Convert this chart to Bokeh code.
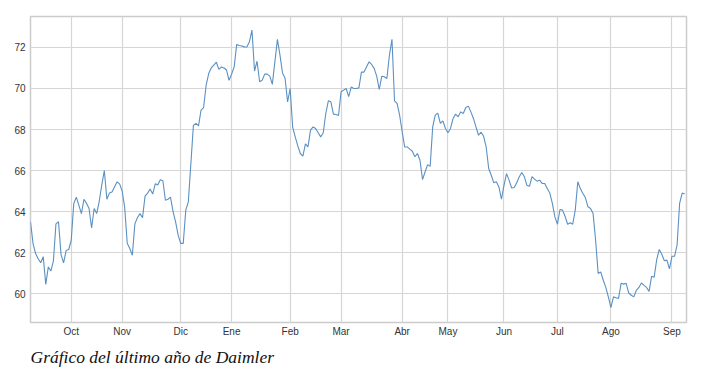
from bokeh.plotting import figure
from bokeh.models import FixedTicker, Range1d, Title
from bokeh.embed import file_html
from bokeh.resources import INLINE

# Daily closing prices (trading-day index)
prices_part1 = [63.5, 62.44, 61.95, 61.7, 61.5, 61.8, 60.45, 61.3, 61.1, 61.6,
                63.4, 63.5, 61.9, 61.5, 62.1, 62.15, 62.6, 64.4, 64.7, 64.3,
                63.9, 64.6, 64.4, 64.15, 63.2, 64.15, 63.9, 64.5, 65.3, 66.0,
                64.6, 64.9, 64.95, 65.2, 65.45, 65.35, 65.0, 64.2, 62.45, 62.2,
                61.87, 63.4, 63.7, 63.9, 63.7, 64.75, 64.9, 65.1, 64.85, 65.35,
                65.3, 65.55, 65.5, 64.55, 64.6, 64.7, 64.0, 63.5, 62.85, 62.45,
                62.45, 64.07, 64.47, 66.34, 68.2, 68.3, 68.18, 68.95, 69.07, 70.16,
                70.73, 71.0, 71.14, 71.28, 70.93, 71.05, 71.0, 70.9, 70.4, 70.7,
                71.05, 72.15, 72.1]
prices_part2 = [72.07, 72.03, 72.02, 72.28, 72.85, 70.85, 71.33, 70.33, 70.4, 70.7,
                70.7, 70.6, 70.2, 71.3, 72.4, 71.63, 70.76, 70.5, 69.35, 70.0,
                68.1, 67.64, 67.2, 66.83, 66.7, 67.3, 67.15, 67.97, 68.13, 68.05,
                67.84, 67.64, 67.84, 68.78, 69.4, 69.35, 68.75, 68.73, 68.68, 69.84,
                69.92, 70.0, 69.6, 70.08, 70.0, 70.0, 70.03, 70.8, 70.8, 71.05,
                71.3, 71.17, 70.98, 70.6, 69.95, 70.6, 70.57, 70.49, 71.63, 72.4,
                69.4, 69.27, 68.7, 67.89, 67.15, 67.15, 67.04, 66.94, 66.67, 66.83,
                66.5, 65.56, 65.93, 66.29, 66.2, 68.13, 68.7, 68.8, 68.3, 68.42,
                68.05, 67.84, 68.05, 68.54, 68.75, 68.62]
prices_part3 = [68.86, 68.78, 69.07, 69.14, 68.86, 68.54, 68.13, 67.72, 67.87, 67.67,
                67.15, 66.1, 65.77, 65.4, 65.45, 65.2, 64.6, 65.28, 65.85, 65.53,
                65.15, 65.17, 65.4, 65.7, 65.9, 65.7, 65.28, 65.23, 65.7, 65.58,
                65.48, 65.53, 65.37, 65.37, 65.12, 64.9, 64.4, 63.74, 63.38, 64.1,
                64.07, 63.77, 63.38, 63.45, 63.38, 64.07, 65.45, 65.12, 64.88, 64.67,
                64.23, 64.15, 63.9, 62.6, 60.98, 61.06, 60.65, 60.3, 59.84, 59.32,
                59.84, 59.8, 59.76, 60.5, 60.46, 60.5, 60.03, 59.92, 59.84, 60.16,
                60.3, 60.52, 60.4, 60.3, 60.11, 60.85, 60.8, 61.66, 62.15, 61.92,
                61.6, 61.63, 61.2, 61.82, 61.82, 62.36, 64.4, 64.9, 64.85]
prices = prices_part1 + prices_part2 + prices_part3
days = list(range(len(prices)))

# First trading day of each month (index) and labels
month_start_idx = [16, 36, 59, 79, 102, 122, 146, 164, 186, 207, 228, 252]
month_labels = ["Oct", "Nov", "Dic", "Ene", "Feb", "Mar", "Abr", "May",
                "Jun", "Jul", "Ago", "Sep"]
y_ticks = [60, 62, 64, 66, 68, 70, 72]
caption = "Gráfico del último año de Daimler"

p = figure(width=712, height=378, output_backend="svg", toolbar_location=None,
           x_range=Range1d(0, len(prices) - 0.3), y_range=Range1d(58.59, 73.51),
           min_border_left=30, min_border_right=26, min_border_top=16,
           min_border_bottom=56)
p.background_fill_color = "white"
p.border_fill_color = "white"
p.outline_line_color = "#cccccc"
p.outline_line_width = 1.5

p.line(days, prices, line_color="#5b90c2", line_width=1.1)

p.xaxis.ticker = FixedTicker(ticks=month_start_idx)
p.xaxis.major_label_overrides = {i: l for i, l in zip(month_start_idx, month_labels)}
p.yaxis.ticker = FixedTicker(ticks=y_ticks)

for ax in (p.xaxis[0], p.yaxis[0]):
    ax.axis_line_color = None
    ax.major_tick_line_color = None
    ax.minor_tick_line_color = None
    ax.major_tick_out = 0
    ax.major_tick_in = 0
    ax.major_label_text_font = "Liberation Sans"
    ax.major_label_text_font_size = "10px"
    ax.major_label_text_color = "#333333"
    ax.major_label_standoff = 5

p.xaxis.major_label_standoff = 3

p.xgrid.ticker = FixedTicker(ticks=month_start_idx)
p.ygrid.ticker = FixedTicker(ticks=y_ticks)
p.grid.grid_line_color = "#d6d6d6"
p.grid.grid_line_width = 1.2

cap = Title(text=caption, align="left", text_font="Liberation Serif",
            text_font_style="italic", text_font_size="17.5px",
            text_color="#111111", standoff=11)
p.add_layout(cap, "below")

open("out.html", "w").write(file_html(p, INLINE))
